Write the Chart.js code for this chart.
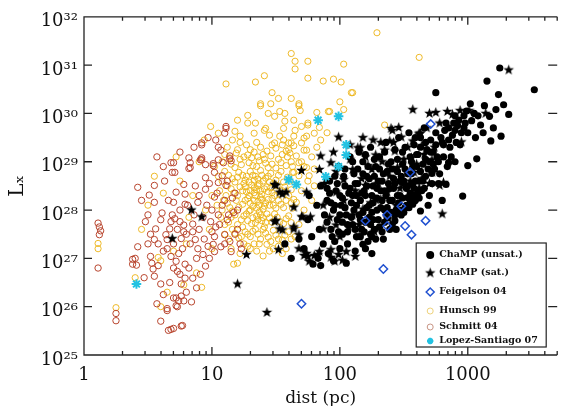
<!DOCTYPE html>
<html>
<head>
<meta charset="utf-8">
<script src="https://cdn.jsdelivr.net/npm/chart.js@4.4.1/dist/chart.umd.min.js"></script>
<style>
  html, body { margin: 0; padding: 0; background: #fff; }
</style>
</head>
<body>
<canvas id="lxChart" width="564" height="406"></canvas>
<script>
// every point is [log10 dist (pc), log10 Lx]
const xTickValues = [1, 10, 100, 1000];
const yTickExponents = [25, 26, 27, 28, 29, 30, 31, 32];
const seriesLabels = ["ChaMP (unsat.)", "ChaMP (sat.)", "Feigelson 04", "Hunsch 99", "Schmitt 04", "Lopez-Santiago 07"];

const champUnsat = [
  [1.57,27.3],[1.68,27.4],[1.79,26.88],[1.62,27.0],[1.72,27.2],[1.75,27.8],[1.78,27.45],[1.82,28.1],[1.84,27.6],[1.76,28.3],[1.83,27.0],[1.85,28.5],[1.85,26.85],
  [1.87,27.3],[1.88,27.9],[1.9,28.2],[1.91,27.1],[1.92,28.6],[1.93,27.6],[1.95,28.0],[1.96,27.35],[1.97,28.4],[1.98,27.8],[1.99,28.9],[2.0,27.2],[1.95,26.95],
  [2.01,28.1],[2.02,27.5],[2.03,28.7],[2.05,27.9],[2.06,27.3],[2.07,28.35],[2.08,29.1],[2.1,27.7],[2.11,28.0],[2.12,28.55],[2.13,27.45],[2.14,28.85],[2.15,27.9],[2.05,26.9],[2.12,27.15],
  [2.16,28.2],[2.17,27.6],[2.18,29.0],[2.19,28.4],[2.2,27.75],[2.21,28.7],[2.22,27.35],[2.23,28.1],[2.24,29.3],[2.25,27.95],[2.26,28.5],[2.27,27.6],[2.28,28.9],[2.29,28.25],[2.3,27.8],[2.25,27.1],
  [2.31,29.1],[2.32,28.4],[2.33,27.55],[2.34,28.75],[2.35,28.0],[2.36,29.4],[2.37,27.85],[2.38,28.55],[2.39,28.2],[2.4,29.0],[2.41,27.7],[2.42,28.45],[2.43,29.25],[2.44,28.0],[2.45,28.8],
  [2.46,29.5],[2.47,28.3],[2.48,27.9],[2.49,28.95],[2.5,28.6],[2.51,29.3],[2.52,28.1],[2.53,28.75],[2.54,29.6],[2.55,28.35],[2.56,29.0],[2.57,28.55],[2.58,29.35],[2.59,28.2],[2.6,28.9],
  [2.61,29.15],[2.62,28.6],[2.63,29.5],[2.64,28.4],[2.65,28.95],[2.66,29.7],[2.67,28.7],[2.68,29.25],[2.69,28.1],[2.7,29.0],[2.71,29.45],[2.72,28.55],[2.73,29.2],[2.74,28.85],[2.75,29.6],
  [2.76,29.1],[2.78,28.75],[2.8,29.4],[2.82,29.65],[2.84,28.9],[2.86,29.3],[2.88,29.55],[2.9,29.0],[2.92,29.75],[2.94,29.35],
  [2.96,28.29],[2.63,27.98],[3.0,28.92],[3.07,29.06],[3.18,29.43],[3.26,29.53],[3.1,29.76],[3.17,29.94],[3.32,29.98],[3.22,30.08],[3.28,30.18],[3.13,30.16],[3.02,30.2],[3.24,30.39],
  [2.75,30.43],[3.52,30.49],[3.15,30.67],[3.25,30.94],[2.93,29.86],[2.98,29.8],[2.97,29.7],[3.0,29.6],[2.9,29.65],[2.85,29.7],[2.81,29.35],[2.85,28.98],[2.72,28.76],[2.83,28.53],[2.57,28.31],
  [1.9,28.45],[1.93,28.15],[1.96,28.7],[1.99,27.55],[2.02,28.25],[2.04,28.5],[2.06,27.7],[2.09,28.15],[2.11,28.75],[2.13,28.3],[2.16,27.45],[2.18,27.95],[2.2,28.3],[2.22,28.9],
  [2.24,27.7],[2.26,28.15],[2.28,27.4],[2.3,28.6],[2.32,28.05],[2.34,27.4],[2.36,28.3],[2.38,28.95],[2.4,27.95],[2.42,28.65],[2.44,27.6],[2.46,28.15],[2.48,28.7],[2.5,27.95],
  [2.52,28.45],[2.54,28.05],[2.56,28.75],[2.58,28.45],[2.6,29.15],[2.62,28.25],[2.66,28.45],[2.7,28.3],[2.77,28.55],[2.8,28.2],[2.45,29.05],[2.35,29.2],[2.27,29.05],[2.2,29.15],
  [2.15,29.2],[2.1,29.0],[2.43,27.78],[2.46,27.98],[2.53,28.26],[2.57,28.12],[2.25,27.45],[2.18,27.29],[2.2,27.2],[2.24,27.5],
  [1.9,27.75],[1.92,28.35],[1.94,27.45],[1.96,28.1],[1.98,28.55],[2.0,27.9],[2.0,28.3],[2.02,27.75],[2.04,28.05],[2.04,28.85],[2.06,27.55],[2.08,28.45],[2.09,27.85],[2.1,28.3],
  [2.12,27.6],[2.13,28.1],[2.14,28.55],[2.16,27.8],[2.17,28.35],[2.18,28.75],[2.19,27.55],[2.21,28.05],[2.21,28.5],[2.23,27.85],[2.23,28.65],[2.25,28.3],[2.26,27.8],[2.27,28.7],
  [2.29,28.0],[2.29,28.45],[2.31,27.65],[2.31,28.85],[2.33,28.2],[2.33,28.6],[2.35,27.75],[2.35,28.4],[2.37,28.05],[2.37,28.8],[2.39,27.6],[2.39,28.45],[2.41,28.2],[2.41,28.85],
  [2.43,27.9],[2.43,28.55],[2.45,28.3],[2.47,28.0],[2.47,28.6],[2.49,28.25],[2.49,29.2],[2.51,28.85],[2.51,28.05],[2.53,28.5],[2.55,28.2],[2.55,29.1],[2.57,28.9],[2.59,28.6],
  [2.59,29.5],[2.61,28.35],[2.63,28.8],[2.63,29.3],[2.65,28.6],[2.67,29.05],[2.67,29.4],[2.69,28.85],[2.71,29.2],[2.73,28.95],[2.75,29.35],[2.77,29.0],[2.79,29.5],[2.81,29.1],
  [2.83,29.8],[2.85,29.45],[2.87,29.1],[2.89,29.8],[2.91,29.4],[2.95,29.6],[2.97,29.95],[3.03,29.85],[3.06,29.5],[3.08,29.95],[3.12,29.6],[3.2,29.7],[3.05,30.0],[2.99,30.05],[2.9,29.95]
];

const champSat = [
  [0.84,28.0],[0.92,27.86],[0.69,27.41],[1.27,27.08],[1.2,26.47],[1.43,25.88],[1.5,28.51],[1.53,28.37],[1.58,28.37],[1.49,28.53],[1.55,28.33],
  [1.64,28.06],[1.5,27.78],[1.55,27.59],[1.64,27.61],[1.7,27.86],[1.77,27.86],[1.52,27.18],[1.68,27.2],[1.72,27.06],[1.8,27.06],[1.53,27.61],[1.49,27.76],
  [2.57,30.08],[2.7,30.0],[2.75,30.02],[2.84,30.04],[2.94,30.06],[3.01,30.06],[3.32,30.9],[3.14,30.0],[2.88,29.98],
  [1.99,29.51],[2.41,29.65],[2.46,29.71],[2.48,29.51],[2.39,29.43],[2.57,29.43],[2.62,29.57],[1.85,29.12],[1.95,29.2],[2.14,29.29],[2.16,29.29],[2.28,29.14],
  [2.35,29.24],[2.4,29.69],[2.63,29.59],[1.84,28.84],[1.93,28.98],[2.03,28.63],[2.1,28.84],[2.22,28.92],[1.7,28.82],[1.71,27.86],[1.64,27.65],[1.68,27.49],
  [1.74,27.1],[1.83,27.08],[1.93,27.18],[1.99,27.08],[2.05,27.14],[2.12,27.04],[1.87,27.61],[1.97,27.69],[2.1,27.9],[2.18,28.02],[2.28,28.22],[2.22,27.76],
  [2.38,27.82],[2.25,28.84],[2.45,28.88],[2.49,28.53],[2.58,28.78],[2.62,28.43],[2.37,28.37],[2.56,29.08],[2.64,29.33],[2.43,29.22],[2.2,28.51],[2.32,28.22],
  [1.97,28.37],[1.87,28.1],[1.74,28.37],[2.02,26.96],[1.96,26.94],[1.93,27.02],[1.76,26.94],[1.75,27.04],[1.84,27.14],
  [2.8,27.92],[2.95,29.41],[2.64,28.65],[2.62,28.45],[2.72,28.78],[2.78,28.51],[2.81,28.57],[2.72,29.04],[2.62,29.59],[2.15,27.45],
  [1.88,28.55],[1.92,27.85],[1.97,28.8],[2.0,27.45],[2.03,28.2],[2.07,27.65],[2.08,29.05],[2.12,28.4],[2.15,27.7],[2.17,28.65],[2.2,29.1],[2.24,28.15],
  [2.27,27.55],[2.3,28.55],[2.33,29.0],[2.36,27.95],[2.39,28.7],[2.42,29.4],[2.44,28.1],[2.47,28.45],[2.5,29.05],[2.53,29.3],[2.55,28.6],[2.6,28.95],
  [2.66,29.15],[2.68,29.7],[2.74,29.3],[2.78,29.8],[2.7,28.55],[2.32,29.4],[2.26,29.45],[2.18,29.5],[2.08,29.35]
];

const feigelson = [
  [2.71,29.78],[2.55,28.78],[2.48,28.08],[2.37,27.9],[2.2,27.78],[2.37,27.67],[2.51,27.67],[2.67,27.78],[2.56,27.49],[2.34,26.78],[1.7,26.06]
];

const hunsch = [
  [2.29,31.67],[2.62,31.16],[1.62,31.24],[1.65,31.08],[1.65,30.92],[1.75,31.08],[1.75,30.73],[1.41,30.78],[1.34,30.65],[1.11,30.61],[1.47,30.43],[1.52,30.31],
  [1.46,30.2],[1.38,30.2],[1.44,30.0],[1.49,29.94],[1.57,30.0],[1.68,30.2],[1.69,30.06],[1.62,30.31],[1.75,29.76],[0.99,29.73],[0.94,29.45],[1.28,29.8],[1.18,29.63],
  [1.22,29.53],[1.33,29.59],[1.41,29.65],[1.45,29.55],[1.56,29.69],[1.64,29.53],[1.72,29.49],[1.74,29.24],[1.7,29.39],[1.64,29.33],[1.56,29.45],[1.49,29.39],
  [1.95,30.71],[1.68,30.16],[1.38,30.16],[1.53,30.04],[1.57,29.84],[1.64,29.86],[1.7,29.73],[1.75,29.8],[1.8,29.59],[1.65,29.65],[1.66,29.12],[1.58,29.22],
  [1.05,29.59],[1.2,29.86],[1.28,29.96],[1.34,29.8],[1.42,29.69],[1.53,29.53],[1.6,29.39],[2.01,30.65],[2.03,31.02],[2.09,30.43],[2.0,30.24],[1.82,30.02],
  [1.91,30.04],[2.03,30.08],[2.35,29.76],[1.84,29.71],[1.74,29.53],[1.72,29.24],[1.68,28.98],[1.74,28.88],[1.68,28.71],[1.76,28.71],[2.1,30.43],[1.87,30.67],
  [1.92,30.04],[1.62,29.39],[1.61,29.18],[1.64,28.78],[1.64,28.22],[1.66,28.16],
  [1.12,29.3],[1.2,29.25],[1.27,29.35],[1.33,29.2],[1.38,29.3],[1.43,29.22],[1.5,29.28],[1.55,29.15],[1.25,29.1],[1.36,29.1],
  [1.08,29.0],[1.15,28.95],[1.22,29.05],[1.29,28.98],[1.35,28.9],[1.41,29.05],[1.47,28.95],[1.52,29.05],[1.58,28.92],[1.62,29.0],[1.18,28.88],[1.31,29.08],[1.44,28.88],
  [1.05,28.7],[1.1,28.8],[1.16,28.65],[1.21,28.78],[1.26,28.62],[1.3,28.8],[1.34,28.7],[1.38,28.82],[1.42,28.66],[1.46,28.76],[1.5,28.62],[1.54,28.8],[1.59,28.68],
  [1.63,28.78],[1.24,28.72],[1.4,28.6],[1.33,28.62],
  [1.06,28.4],[1.12,28.5],[1.17,28.35],[1.22,28.48],[1.27,28.38],[1.31,28.52],[1.35,28.42],[1.39,28.32],[1.43,28.48],[1.47,28.36],[1.51,28.5],[1.55,28.4],[1.6,28.3],
  [1.29,28.3],[1.37,28.55],[1.45,28.58],[1.25,28.55],[1.33,28.46],
  [1.04,28.1],[1.09,28.2],[1.14,28.05],[1.19,28.2],[1.24,28.12],[1.28,28.24],[1.32,28.08],[1.36,28.18],[1.4,28.02],[1.44,28.22],[1.48,28.1],[1.52,28.2],[1.56,28.05],
  [1.62,28.15],[1.3,28.0],[1.38,28.26],[1.34,28.3],[1.42,28.15],
  [1.07,27.85],[1.13,27.75],[1.18,27.9],[1.23,27.8],[1.27,27.92],[1.31,27.72],[1.35,27.88],[1.39,27.78],[1.43,27.92],[1.47,27.75],[1.51,27.85],[1.56,27.72],[1.6,27.88],
  [1.29,27.98],[1.37,27.96],[1.41,27.65],
  [1.1,27.5],[1.16,27.6],[1.21,27.42],[1.26,27.55],[1.3,27.45],[1.34,27.6],[1.38,27.4],[1.42,27.52],[1.46,27.35],[1.5,27.48],[1.55,27.38],[1.6,27.55],[1.65,27.45],
  [1.24,27.65],[1.33,27.3],
  [1.15,27.2],[1.22,27.1],[1.28,27.25],[1.35,27.15],[1.4,27.05],[1.48,27.2],[1.55,27.1],[1.2,26.9],[1.43,27.29],[1.17,26.88],
  [1.7,28.4],[1.72,28.0],[1.68,27.7],[1.75,28.6],[1.7,29.0],[1.8,28.5],[1.78,28.2],[1.02,28.9],[1.0,28.3],[0.98,27.6],[1.0,27.2],[0.95,28.0],
  [0.11,27.31],[0.11,27.2],[0.25,25.98],[0.58,27.02],[0.45,27.6],[0.5,28.1],[0.55,28.7],[0.6,26.95],[0.65,26.3],[0.7,27.15],[0.75,28.6],
  [0.8,27.3],[0.85,28.3],[0.88,26.7],[0.9,29.0],[0.72,29.1],[0.62,28.35],[0.78,26.45],[0.4,26.6],[0.82,27.85],[0.92,26.4],[0.6,26.0],
  [1.1,29.15],[1.14,29.08],[1.19,29.18],[1.23,28.94],[1.28,29.14],[1.32,28.92],[1.37,29.02],[1.42,28.97],[1.46,29.12],[1.5,28.87],[1.54,28.98],[1.59,29.1],[1.63,28.9],
  [1.08,28.6],[1.13,28.72],[1.18,28.58],[1.2,28.68],[1.27,28.7],[1.29,28.58],[1.32,28.72],[1.36,28.64],[1.39,28.72],[1.44,28.7],[1.48,28.55],[1.52,28.72],[1.56,28.58],[1.61,28.6],
  [1.11,28.3],[1.15,28.44],[1.2,28.3],[1.24,28.4],[1.26,28.48],[1.3,28.4],[1.33,28.36],[1.36,28.5],[1.38,28.4],[1.41,28.44],[1.44,28.38],[1.46,28.46],[1.49,28.3],[1.53,28.34],
  [1.57,28.48],[1.62,28.42],
  [1.08,28.0],[1.12,28.14],[1.16,27.98],[1.21,28.06],[1.26,28.2],[1.3,28.14],[1.33,28.2],[1.35,28.04],[1.37,28.1],[1.39,28.22],[1.41,28.08],[1.45,28.1],[1.47,28.24],[1.5,28.04],
  [1.54,28.12],[1.58,28.2],[1.63,28.04],
  [1.1,27.7],[1.15,27.85],[1.2,27.7],[1.25,27.88],[1.28,27.78],[1.32,27.84],[1.34,27.74],[1.36,27.8],[1.38,27.9],[1.4,27.84],[1.42,27.74],[1.45,27.84],[1.49,27.92],[1.53,27.76],
  [1.58,27.82],[1.62,27.74],
  [1.13,27.4],[1.18,27.52],[1.23,27.45],[1.28,27.5],[1.32,27.56],[1.36,27.5],[1.4,27.6],[1.44,27.44],[1.48,27.58],[1.52,27.4],[1.57,27.48],[1.62,27.4],
  [1.25,27.3],[1.3,27.2],[1.37,27.3],[1.45,27.15],[1.52,27.25],[1.58,27.2],
  [1.3,29.25],[1.4,29.15],[1.47,29.35],[1.35,29.4],[1.22,29.4],[1.55,29.35],[1.16,29.45],[1.6,29.25],
  [1.72,28.9],[1.78,29.1],[1.82,29.3],[1.85,29.45],[1.9,29.6],[1.8,28.85]
];

const schmitt = [
  [0.11,27.73],[0.12,27.65],[0.13,27.57],[0.12,27.49],[0.11,26.8],[0.25,25.86],[0.25,25.71],
  [0.38,26.98],[0.4,27.0],[0.38,26.88],[0.41,26.86],[0.42,27.24],[0.42,28.47],[0.48,27.76],
  [0.51,28.31],[0.55,28.51],[0.55,28.16],[0.61,27.94],[0.56,27.61],[0.55,27.39],[0.52,27.04],[0.53,26.9],[0.54,26.78],[0.55,26.63],[0.6,26.47],[0.57,26.06],
  [0.65,25.92],[0.68,25.53],[0.7,25.55],[0.77,25.61],[0.72,26.18],[0.74,26.12],[0.72,26.02],[0.76,26.47],[0.79,26.59],[0.75,26.67],[0.73,26.73],[0.72,26.94],
  [0.68,27.04],[0.74,27.1],[0.79,26.88],[0.82,26.8],[0.65,27.2],[0.65,27.39],[0.64,27.49],[0.67,27.61],[0.68,27.76],[0.71,27.82],[0.75,27.76],[0.78,27.69],
  [0.78,27.55],[0.76,27.41],[0.7,28.16],[0.72,28.37],[0.71,28.78],[0.68,28.98],[0.78,28.53],[0.79,28.33],[0.79,28.12],[0.83,28.98],[0.83,28.88],[0.82,29.08],
  [0.92,29.04],[0.95,28.94],[1.01,28.92],[1.02,28.78],[0.95,28.67],[0.95,28.43],[0.89,28.16],[0.85,27.71],[0.85,27.55],[0.87,27.39],[0.89,27.2],[0.93,27.08],
  [0.98,27.0],[0.95,26.84],[0.91,26.67],[0.85,26.59],[0.88,26.39],[1.0,27.55],[0.99,27.76],[1.02,27.14],
  [0.92,29.39],[1.07,29.24],[1.11,29.69],[1.14,29.12],[1.15,29.02],[1.05,29.04],[1.08,28.71],[1.05,28.57],[1.11,28.51],[1.02,28.27],[1.1,28.2],[1.05,27.9],
  [1.12,27.8],[1.03,27.65],[1.1,27.49],[1.14,27.35],[1.07,27.24],[1.01,27.29],[1.15,27.14],
  [1.11,29.73],[1.1,29.59],[0.92,29.35],[0.92,29.08],[0.7,28.98],[0.69,28.78],[0.82,28.86],[0.91,29.04],[1.01,28.96],[1.05,29.3],[1.14,29.06],[1.09,28.98],
  [0.66,25.51],[0.76,25.6],[0.73,26.0],[0.76,26.22],[0.78,26.12],[0.7,26.18],[0.65,25.96],
  [1.17,27.95],[1.2,27.6],[1.18,28.35],[1.22,27.3],
  [0.45,28.2],[0.5,27.9],[0.52,27.5],[0.58,27.3],[0.6,27.8],[0.62,27.15],[0.63,28.6],[0.66,28.2],[0.69,27.9],[0.7,27.3],[0.73,27.6],[0.75,28.0],[0.77,27.2],
  [0.8,27.5],[0.81,28.1],[0.83,27.3],[0.86,27.9],[0.87,28.5],[0.88,27.0],[0.9,27.6],[0.9,28.3],[0.93,27.85],[0.94,27.4],[0.96,28.1],[0.97,27.25],[0.98,28.55],
  [1.0,28.0],[1.02,27.45],[1.04,28.35],[1.06,27.7],[1.08,28.1],[1.1,27.3],[1.12,28.6],[1.13,27.9],[1.16,28.25],[1.18,27.5],[1.2,28.0],[1.23,27.2],[0.6,25.7],
  [0.62,26.25],[0.67,26.5],[0.7,26.8],[0.8,26.3],[0.84,26.1],[0.58,26.85],[0.47,26.6],[0.5,27.3],[0.86,29.3],[0.97,29.5],[1.03,29.45],[0.75,29.2],[0.62,28.9],[0.57,29.1]
];

const lopezSantiago = [
  [0.41,26.47],[1.6,28.63],[1.66,28.53],[1.83,29.86],[1.99,29.94],[2.05,29.35],[2.05,29.14],[1.99,28.9],[1.89,28.69]
];

const SERIF = "'DejaVu Serif', 'Liberation Serif', serif";
const SUP = "⁰¹²³⁴⁵⁶⁷⁸⁹";
function sup(n) {
  return String(n).split("").map(d => SUP[+d]).join("");
}

function toPoints(list) {
  return list.map(p => ({ x: Math.pow(10, p[0]), y: Math.pow(10, p[1]) }));
}

// five pointed star, chart.js has no such pointStyle
function makeStar(r, color) {
  const size = Math.ceil(r * 2 + 2);
  const c = document.createElement("canvas");
  c.width = size;
  c.height = size;
  const g = c.getContext("2d");
  g.fillStyle = color;
  g.beginPath();
  for (let i = 0; i < 10; i++) {
    const rad = i % 2 ? r * 0.42 : r;
    const a = -Math.PI / 2 + i * Math.PI / 5;
    g.lineTo(size / 2 + rad * Math.cos(a), size / 2 + rad * Math.sin(a));
  }
  g.closePath();
  g.fill();
  return c;
}
const starImg = makeStar(5.5, "#000");

const datasets = [
  { label: seriesLabels[0], data: toPoints(champUnsat), pointStyle: "circle", pointRadius: 3.6,
    backgroundColor: "#000", borderColor: "#000", borderWidth: 0, order: 3 },
  { label: seriesLabels[1], data: toPoints(champSat), pointStyle: starImg, pointRadius: 5,
    backgroundColor: "#000", borderColor: "#000", order: 2 },
  { label: seriesLabels[2], data: toPoints(feigelson), pointStyle: "rectRot", pointRadius: 4.2,
    backgroundColor: "rgba(0,0,0,0)", borderColor: "#2050d0", borderWidth: 1.5, order: 1 },
  { label: seriesLabels[3], data: toPoints(hunsch), pointStyle: "circle", pointRadius: 3.1,
    backgroundColor: "rgba(0,0,0,0)", borderColor: "rgba(236,178,20,0.9)", borderWidth: 1, order: 5 },
  { label: seriesLabels[4], data: toPoints(schmitt), pointStyle: "circle", pointRadius: 3.2,
    backgroundColor: "rgba(0,0,0,0)", borderColor: "#b8452e", borderWidth: 1, order: 4 },
  { label: seriesLabels[5], data: toPoints(lopezSantiago), pointStyle: "star", pointRadius: 4.8,
    backgroundColor: "#22c2e2", borderColor: "#22c2e2", borderWidth: 2, order: 0 },
];

// frame (left, top, bottom) with inward major/minor ticks
const frameTicks = {
  id: "frameTicks",
  afterDatasetsDraw(chart) {
    const { ctx, chartArea: a, scales } = chart;
    const xs = scales.x, ys = scales.y;
    ctx.save();
    ctx.strokeStyle = "#222";
    ctx.lineWidth = 1.3;
    ctx.beginPath();
    ctx.moveTo(a.right, a.top); ctx.lineTo(a.left, a.top);
    ctx.lineTo(a.left, a.bottom); ctx.lineTo(a.right, a.bottom);
    for (let dec = 1; dec <= 1000; dec *= 10) {
      for (let m = 1; m <= 9; m++) {
        const v = dec * m;
        if (v > xs.max) break;
        const px = xs.getPixelForValue(v);
        const len = m === 1 ? 8 : 4;
        ctx.moveTo(px, a.bottom); ctx.lineTo(px, a.bottom - len);
        ctx.moveTo(px, a.top); ctx.lineTo(px, a.top + len);
      }
    }
    yTickExponents.forEach(e => {
      const py = ys.getPixelForValue(Math.pow(10, e));
      ctx.moveTo(a.left, py); ctx.lineTo(a.left + 8, py);
      ctx.moveTo(a.right, py); ctx.lineTo(a.right - 9, py);
    });
    ctx.stroke();
    ctx.restore();
  },
};

// boxed legend in the lower right corner
const cornerLegend = {
  id: "cornerLegend",
  afterDraw(chart) {
    const { ctx, chartArea: a } = chart;
    const x0 = a.right - 141, y0 = a.bottom - 112;
    ctx.save();
    ctx.fillStyle = "#fff";
    ctx.fillRect(x0, y0, 130, 104);
    ctx.strokeStyle = "#222";
    ctx.lineWidth = 1.2;
    ctx.strokeRect(x0, y0, 130, 104);
    const rows = [12, 30, 49, 68, 84, 98];
    const mx = x0 + 14;
    ctx.font = "bold 9.5px " + SERIF;
    ctx.textBaseline = "middle";
    seriesLabels.forEach((lab, i) => {
      const y = y0 + rows[i];
      ctx.lineWidth = 1;
      if (i === 0) {
        ctx.fillStyle = "#000";
        Chart.helpers.drawPoint(ctx, { pointStyle: "circle", radius: 4, borderWidth: 0 }, mx, y);
      } else if (i === 1) {
        ctx.drawImage(starImg, mx - starImg.width / 2, y - starImg.height / 2);
      } else if (i === 2) {
        ctx.strokeStyle = "#2050d0";
        ctx.fillStyle = "rgba(0,0,0,0)";
        ctx.lineWidth = 1.5;
        Chart.helpers.drawPoint(ctx, { pointStyle: "rectRot", radius: 4, borderWidth: 1.5 }, mx, y);
      } else if (i === 3) {
        ctx.strokeStyle = "#eed27a";
        ctx.fillStyle = "rgba(0,0,0,0)";
        Chart.helpers.drawPoint(ctx, { pointStyle: "circle", radius: 3, borderWidth: 1 }, mx, y);
      } else if (i === 4) {
        ctx.strokeStyle = "#c99585";
        ctx.fillStyle = "rgba(0,0,0,0)";
        Chart.helpers.drawPoint(ctx, { pointStyle: "circle", radius: 3, borderWidth: 1 }, mx, y);
      } else {
        ctx.strokeStyle = "#22c2e2";
        ctx.lineWidth = 2;
        Chart.helpers.drawPoint(ctx, { pointStyle: "star", radius: 3.2, borderWidth: 2 }, mx, y);
      }
      ctx.fillStyle = "#111";
      ctx.fillText(lab, x0 + 23, y);
    });
    ctx.restore();
  },
};

new Chart(document.getElementById("lxChart").getContext("2d"), {
  type: "scatter",
  data: { datasets: datasets },
  options: {
    responsive: false,
    animation: false,
    events: [],
    layout: { padding: { top: 12, right: 0, left: 0, bottom: 0 } },
    plugins: {
      legend: { display: false },
      tooltip: { enabled: false },
    },
    scales: {
      x: {
        type: "logarithmic",
        min: 1,
        max: 5000,
        grid: { display: false, drawTicks: false },
        border: { display: false },
        afterBuildTicks: (scale) => {
          scale.ticks = xTickValues.map(v => ({ value: v }));
        },
        afterFit: (scale) => { scale.height = 51; },
        ticks: {
          autoSkip: false,
          maxRotation: 0,
          padding: 10,
          color: "#111",
          font: { family: SERIF, size: 18 },
          callback: (v) => String(v),
        },
        title: {
          display: true,
          text: "dist (pc)",
          color: "#111",
          font: { family: SERIF, size: 17 },
          padding: { top: 0, bottom: -3 },
        },
      },
      y: {
        type: "logarithmic",
        min: 1e25,
        max: 1e32,
        grid: { display: false, drawTicks: false },
        border: { display: false },
        afterBuildTicks: (scale) => {
          scale.ticks = yTickExponents.map(e => ({ value: Math.pow(10, e) }));
        },
        afterFit: (scale) => { scale.width = 84; },
        ticks: {
          autoSkip: false,
          padding: 6,
          labelOffset: 5,
          color: "#111",
          font: { family: SERIF, size: 18 },
          callback: (v) => "10" + sup(Math.round(Math.log10(v))),
        },
        title: {
          display: true,
          text: "Lₓ",
          color: "#111",
          font: { family: SERIF, size: 20 },
          padding: { top: 6, bottom: 0 },
        },
      },
    },
  },
  plugins: [frameTicks, cornerLegend],
});
</script>
</body>
</html>
